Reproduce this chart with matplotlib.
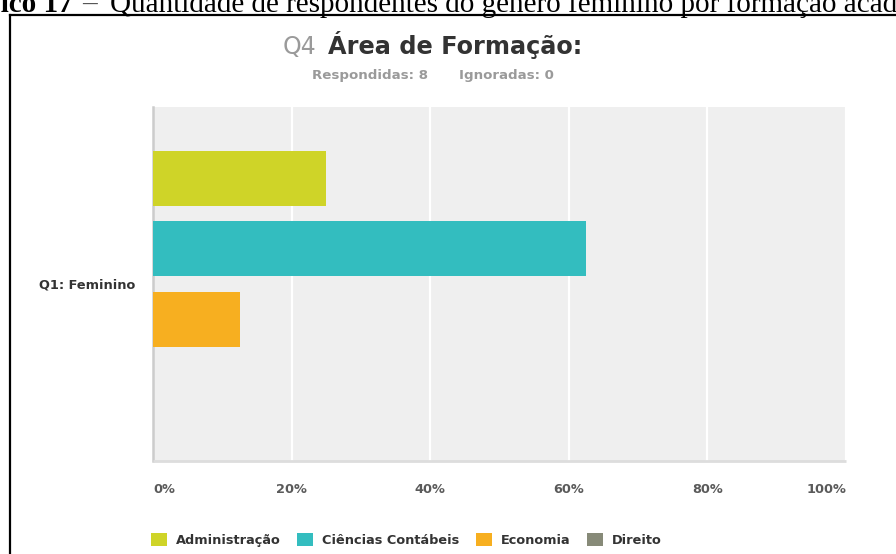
import matplotlib
matplotlib.use("Agg")
import matplotlib.pyplot as plt
from matplotlib.lines import Line2D

categories = ["Q1: Feminino"]
series = ["Administração", "Ciências Contábeis", "Economia", "Direito"]
values = [25.0, 62.5, 12.5, 0.0]
colors = ["#CFD428", "#33BDBF", "#F7AF20", "#878A78"]
xticks = [0, 20, 40, 60, 80, 100]
xtick_labels = ["0%", "20%", "40%", "60%", "80%", "100%"]

W, H = 896, 554
fig = plt.figure(figsize=(W / 100, H / 100), dpi=100)
fig.patch.set_facecolor("white")
FONT = "DejaVu Sans"

def fx(x):
    return x / W

def fy(y):
    return 1 - y / H

# axes placement in pixels
L, R, T, B = 153, 846, 107, 461
ax = fig.add_axes([fx(L), fy(B), fx(R) - fx(L), fy(T) - fy(B)])
ax.set_facecolor("#EFEFEF")

step = 0.2
bar_h = 0.156
handles = []
for i, (s, v, c) in enumerate(zip(series, values, colors)):
    yy = 0 + (i - 1.5) * step
    h = ax.barh([yy], [v], height=bar_h, color=c, linewidth=0,
                label=s, zorder=3)
    handles.append(h)

ax.set_ylim(0.502, -0.502)
ax.set_xlim(0, 100)
ax.set_yticks([0])
ax.set_yticklabels(categories, fontsize=9.3, fontweight="bold", color="#333333",
                   family=FONT)
ax.set_xticks(xticks)
ax.set_xticklabels(xtick_labels, fontsize=9.3, fontweight="bold", color="#5A5A5A",
                   family=FONT)
tl = ax.get_xticklabels()
tl[0].set_horizontalalignment("left")
tl[-1].set_horizontalalignment("right")
ax.tick_params(axis="both", length=0)
ax.tick_params(axis="x", pad=16)
ax.tick_params(axis="y", pad=13)
ax.grid(axis="x", color="white", linewidth=1.6, zorder=1)
ax.set_axisbelow(True)
for sp in ["top", "right"]:
    ax.spines[sp].set_visible(False)
ax.spines["left"].set_color("#CCCCCC")
ax.spines["left"].set_linewidth(1.8)
ax.spines["bottom"].set_color("#DDDDDD")
ax.spines["bottom"].set_linewidth(2.0)
ax.spines["bottom"].set_capstyle("butt")

# title
fig.text(fx(283), fy(54), "Q4", fontsize=17, color="#9A9A9A",
         family=FONT, ha="left", va="baseline")
fig.text(fx(328), fy(54), "Área de Formação:", fontsize=17.3, color="#333333",
         fontweight="bold", family=FONT, ha="left", va="baseline")
fig.text(fx(312), fy(79), "Respondidas: 8", fontsize=9.6,
         color="#9A9A9A", fontweight="bold", family=FONT,
         ha="left", va="baseline")
fig.text(fx(459), fy(79), "Ignoradas: 0", fontsize=9.6,
         color="#9A9A9A", fontweight="bold", family=FONT,
         ha="left", va="baseline")

# legend
leg = fig.legend(handles=handles, labels=series, loc="center left",
                 bbox_to_anchor=(fx(151), fy(540)), ncol=4, frameon=False,
                 prop={"family": FONT, "size": 9.3, "weight": "bold"},
                 handlelength=1.2, handleheight=1.2, handletextpad=0.72,
                 columnspacing=1.3, borderaxespad=0, borderpad=0)
for t in leg.get_texts():
    t.set_color("#333333")

# caption (cut off at top, as in the source screenshot)
fig.text(fx(73), fy(12), "Gráfico 17", fontsize=21, fontweight="bold",
         family="Liberation Serif", color="black", ha="right", va="baseline")
fig.text(fx(82), fy(12), "–", fontsize=21, family="Liberation Serif",
         color="#555555", ha="left", va="baseline")
fig.text(fx(110), fy(12), "Quantidade de respondentes do gênero feminino por formação acadêmica",
         fontsize=21, family="Liberation Serif", color="black", ha="left",
         va="baseline")

# frame lines
fig.add_artist(Line2D([fx(10), fx(10)], [fy(15), fy(560)], color="black",
                      linewidth=1.6, transform=fig.transFigure))
fig.add_artist(Line2D([fx(10), fx(900)], [fy(15), fy(15)], color="black",
                      linewidth=1.6, transform=fig.transFigure))

fig.savefig("out.png", dpi=100)
